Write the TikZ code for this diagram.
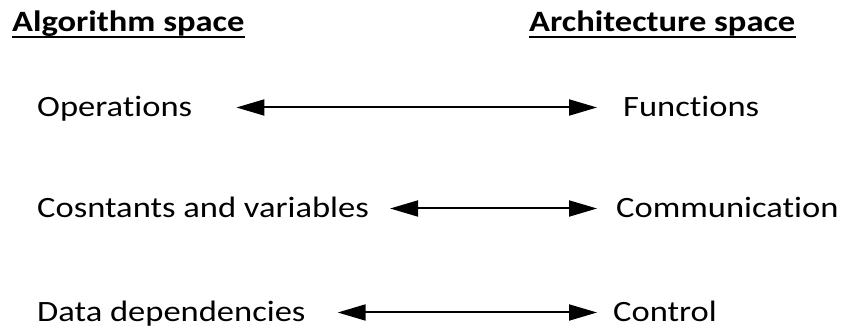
\documentclass[tikz,border=0pt]{standalone}
\usepackage{fontspec}
\setmainfont{Carlito}[FakeStretch=1.17,Ligatures={NoCommon,NoRare}]
\usetikzlibrary{arrows.meta}
\begin{document}
\begin{tikzpicture}[x=1pt,y=-1pt,
    lbl/.style={anchor=base west,inner sep=0pt,text height=19pt,text depth=0pt,
      font=\fontsize{29.5}{35}\selectfont},
    head/.style={lbl,font=\fontsize{29.5}{35}\selectfont\bfseries},
    link/.style={{Triangle[length=28pt,width=16pt]}-{Triangle[length=28pt,width=16pt]},line width=2pt},
    uline/.style={line width=2pt}]
  \useasboundingbox (0,0) rectangle (846,328);

  % headings
  \node[head] (alg) at (12,32) {Algorithm space};
  \node[head] (arch) at (529,32) {Architecture space};
  \draw[uline] ([yshift=-5.5pt]alg.base west) -- ([yshift=-5.5pt]alg.base east);
  \draw[uline] ([yshift=-5.5pt]arch.base west) -- ([yshift=-5.5pt]arch.base east);

  % operations <-> functions
  \node[lbl] (ops) at (37,117) {Operations};
  \node[lbl] (fns) at (623,117) {Functions};
  \draw[link,shorten <=44pt,shorten >=26pt] (ops) -- (fns);

  % constants and variables <-> communication
  \node[lbl] (vars) at (37,218) {Cosntants and variables};
  \node[lbl] (comm) at (616,218) {Communication};
  \draw[link,shorten <=21pt,shorten >=19pt] (vars) -- (comm);

  % data dependencies <-> control
  \node[lbl] (deps) at (37,322) {Data dependencies};
  \node[lbl] (ctrl) at (613,322) {Control};
  \draw[link,shorten <=32pt,shorten >=16pt] (deps) -- (ctrl);
\end{tikzpicture}
\end{document}
